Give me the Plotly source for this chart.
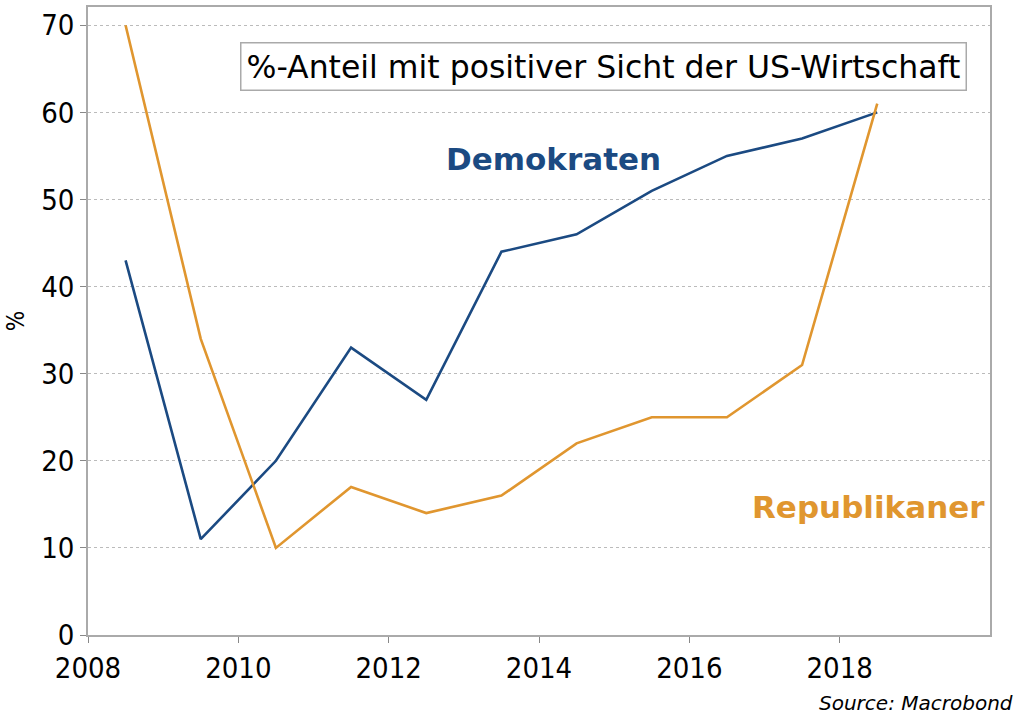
import plotly.graph_objects as go

years = [2008.5, 2009.5, 2010.5, 2011.5, 2012.5, 2013.5, 2014.5, 2015.5, 2016.5, 2017.5, 2018.5]
demokraten = [43, 11, 20, 33, 27, 44, 46, 51, 55, 57, 60]
republikaner = [70, 34, 10, 17, 14, 16, 22, 25, 25, 31, 61]
x_ticks = [2008, 2010, 2012, 2014, 2016, 2018]
y_ticks = [0, 10, 20, 30, 40, 50, 60, 70]

BLUE = "#1b4a82"
ORANGE = "#e0962f"
COND = "DejaVu Sans Condensed, DejaVu Sans, sans-serif"
WIDE = "DejaVu Sans, Verdana, sans-serif"

fig = go.Figure()
fig.add_trace(go.Scatter(x=years, y=demokraten, mode="lines", name="Demokraten",
                         line=dict(color=BLUE, width=2.6)))
fig.add_trace(go.Scatter(x=years, y=republikaner, mode="lines", name="Republikaner",
                         line=dict(color=ORANGE, width=2.6)))

fig.update_layout(
    width=1018, height=716,
    margin=dict(l=88, r=28, t=5, b=81),
    paper_bgcolor="white", plot_bgcolor="white",
    showlegend=False,
    font=dict(family=COND, color="black", size=28),
)
fig.update_xaxes(range=[2008, 2020], tickvals=x_ticks, ticks="outside", ticklen=6,
                 tickcolor="#888", showgrid=False, zeroline=False,
                 showline=True, linecolor="#aaa", linewidth=1.5, mirror=True,
                 tickfont=dict(size=29))
fig.update_yaxes(range=[0, 72.1], tickvals=y_ticks, ticks="outside", ticklen=6,
                 tickcolor="#888", showgrid=True, gridcolor="#bbb", griddash="dot",
                 gridwidth=1, zeroline=False,
                 showline=True, linecolor="#aaa", linewidth=1.5, mirror=True,
                 tickfont=dict(size=29),
                 title=dict(text="%", font=dict(size=24), standoff=10))

fig.add_annotation(x=0.572, y=0.906, xref="paper", yref="paper",
                   xanchor="center", yanchor="middle",
                   text="%-Anteil mit positiver Sicht der US-Wirtschaft",
                   showarrow=False, font=dict(family=WIDE, size=31.5, color="black"),
                   bordercolor="#aaa", borderwidth=1.5, borderpad=5, bgcolor="white")
fig.add_annotation(x=2014.19, y=54.6, text="<b>Demokraten</b>", showarrow=False,
                   font=dict(family=WIDE, size=31, color=BLUE))
fig.add_annotation(x=2018.38, y=14.65, text="<b>Republikaner</b>", showarrow=False,
                   font=dict(family=WIDE, size=31, color=ORANGE))
fig.add_annotation(x=1.028, y=-0.108, xref="paper", yref="paper",
                   xanchor="right", yanchor="middle",
                   text="<i>Source: Macrobond</i>", showarrow=False,
                   font=dict(family=WIDE, size=20, color="black"))

fig.write_html("out.html", config={"displayModeBar": False},
               post_script="document.body.style.margin='0';document.body.style.padding='0';")
